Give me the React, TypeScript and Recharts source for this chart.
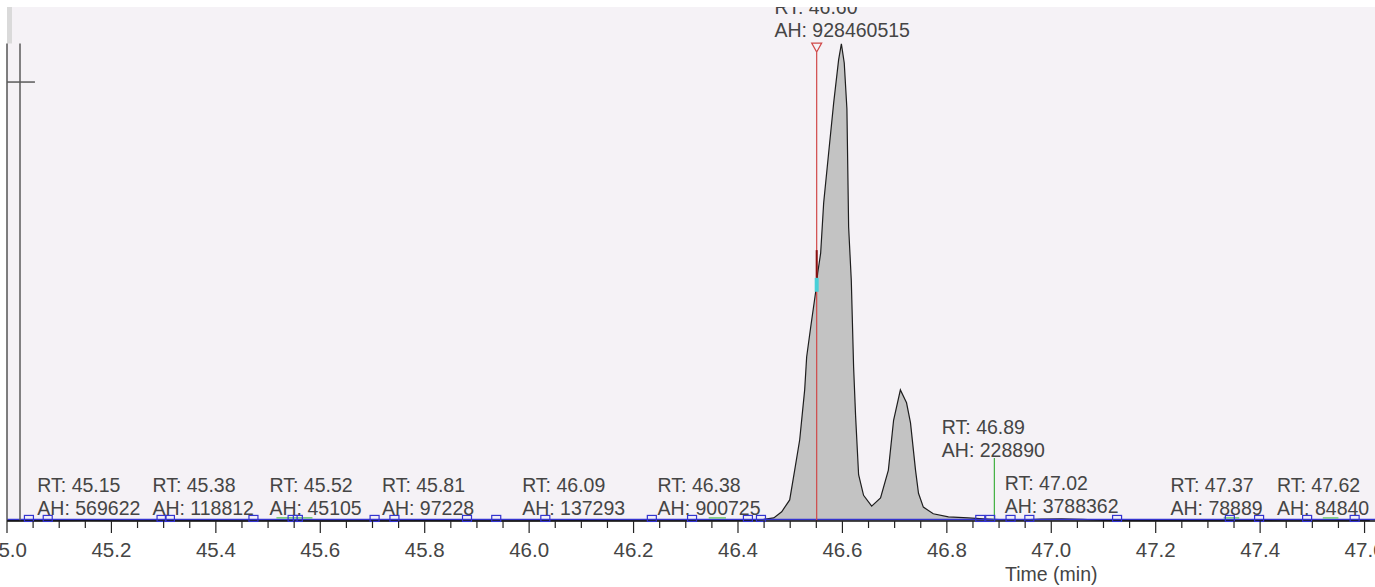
import React from 'react';
import { ComposedChart, Area, Scatter, XAxis, YAxis, CartesianGrid, ReferenceLine, ReferenceDot, ReferenceArea } from 'recharts';

// chromatogram trace: time (min) and intensity (millions of counts)
const TRACE_T = [
    45.0, 45.08, 45.15, 45.23, 45.38, 45.45, 45.52, 45.6, 45.81, 45.95, 46.09, 46.25, 46.38, 46.43,
    46.449, 46.4685, 46.4837, 46.499, 46.5086, 46.5182, 46.5277, 46.5315, 46.5392, 46.5488, 46.5526,
    46.5583, 46.5641, 46.5736, 46.5832, 46.5927, 46.598, 46.6035, 46.6086, 46.6119, 46.617, 46.6214,
    46.6252, 46.631, 46.6405, 46.656, 46.673, 46.688, 46.698, 46.711, 46.7228, 46.7304, 46.74, 46.7457,
    46.755, 46.774, 46.803, 46.841, 46.87, 46.9, 46.95, 46.98, 47.02, 47.06, 47.1, 47.2, 47.37, 47.45, 47.61,
];
const TRACE_V = [
    0.6, 0.8, 1.2, 0.5, 0.7, 0.4, 0.6, 0.4, 0.6, 0.4, 0.7, 0.5, 0.9, 1.2,
    3, 6, 18, 41, 99, 158, 255, 319, 377, 446, 482,
    521, 619, 716, 813, 897, 928.46, 891, 802, 572, 468, 300,
    205, 90, 50, 29, 45, 99, 196, 255, 230, 191, 99, 54,
    27, 14, 8, 6, 4, 2.5, 2, 3.5, 4.2, 3, 1.2, 0.7, 0.9, 0.5, 0.8,
];

// integrated peak annotations
const ANNOT_RT = ['45.15', '45.38', '45.52', '45.81', '46.09', '46.38', '46.60', '46.89', '47.02', '47.37', '47.62'];
const ANNOT_AH = ['569622', '118812', '45105', '97228', '137293', '900725', '928460515', '228890', '3788362', '78889', '84840'];

// peak start / end markers on the baseline
const MARKER_T = [
    45.042, 45.078, 45.296, 45.312, 45.472, 45.547, 45.557, 45.704, 45.742, 45.881, 45.937, 46.031,
    46.235, 46.312, 46.419, 46.444, 46.864, 46.883, 46.922, 46.958, 47.126, 47.342, 47.398, 47.49, 47.581,
];

// short green fitted segments near the baseline
const GREEN_SEGMENTS = [
    [45.516, 45.585],
    [46.344, 46.377],
    [47.33, 47.36],
    [47.52, 47.55],
];

const SELECTED_RT = 46.5507;
const GREEN_RT = 46.891;
const CURSOR_T = 45.0249;

const MAJOR_TICKS = [45.0, 45.2, 45.4, 45.6, 45.8, 46.0, 46.2, 46.4, 46.6, 46.8, 47.0, 47.2, 47.4, 47.6];
const MINOR_TICKS = [
    45.0, 45.05, 45.1, 45.15, 45.2, 45.25, 45.3, 45.35, 45.4, 45.45, 45.5, 45.55, 45.6, 45.65, 45.7, 45.75,
    45.8, 45.85, 45.9, 45.95, 46.0, 46.05, 46.1, 46.15, 46.2, 46.25, 46.3, 46.35, 46.4, 46.45, 46.5, 46.55,
    46.6, 46.65, 46.7, 46.75, 46.8, 46.85, 46.9, 46.95, 47.0, 47.05, 47.1, 47.15, 47.2, 47.25, 47.3, 47.35,
    47.4, 47.45, 47.5, 47.55, 47.6,
];
const Y_TICKS = Array.from({ length: 52 }, (_, i) => i * 18.1);

// label placement (pixels): left offset from RT and baseline offset of the AH line
const LABEL_LAYOUT = [
    { dx: -48, dy: -6 },
    { dx: -53, dy: -6 },
    { dx: -9, dy: -6 },
    { dx: -48, dy: -6 },
    { dx: -54, dy: -6 },
    { dx: -70, dy: -6 },
    { dx: -68, dy: -484 },
    { dx: -52, dy: -64 },
    { dx: -57, dy: -8 },
    { dx: -74, dy: -6 },
    { dx: -98, dy: -6 },
];

const FONT = '"Liberation Sans", Arial, sans-serif';
const TEXT = '#454545';

const traceData = TRACE_T.map((t, i) => ({ t, v: TRACE_V[i] }));
const markerData = MARKER_T.map((t) => ({ t, v: 5 }));
const annotData = ANNOT_RT.map((rt, i) => ({ t: Number(rt), v: 0, rt, ah: ANNOT_AH[i], i }));

function XTick(props: any) {
    const { x, y, payload } = props;
    const value = payload.value as number;
    const major = MAJOR_TICKS.some((m) => Math.abs(m - value) < 1e-6);
    return (
        <g>
            <line x1={x} x2={x} y1={y} y2={y + (major ? 12 : 7)} stroke="#222" strokeWidth={1.2} />
            {major && (
                <text x={x} y={y + 36} textAnchor="middle" fontSize={20.5} fontFamily={FONT} fill={TEXT}>
                    {value.toFixed(1)}
                </text>
            )}
            {Math.abs(value - 47.0) < 1e-6 && (
                <text x={x} y={y + 60} textAnchor="middle" fontSize={19.5} fontFamily={FONT} fill={TEXT}>
                    Time (min)
                </text>
            )}
        </g>
    );
}

function PeakLabel(props: any) {
    const { cx, cy, payload } = props;
    const layout = LABEL_LAYOUT[payload.i];
    const x = cx + layout.dx;
    const y = cy + layout.dy;
    const clipId = `peak-label-clip-${payload.i}`;
    return (
        <g>
            <defs>
                <clipPath id={clipId}>
                    <rect x={0} y={7} width={1375} height={580} />
                </clipPath>
            </defs>
            <g clipPath={`url(#${clipId})`} fontSize={19.5} fontFamily={FONT} fill={TEXT}>
                <text x={x} y={y - 23}>RT: {payload.rt}</text>
                <text x={x} y={y}>AH: {payload.ah}</text>
            </g>
        </g>
    );
}

function MarkerBox(props: any) {
    const { cx, cy } = props;
    return <rect x={cx - 4.5} y={cy - 3} width={9} height={6} fill="none" stroke="#3434d0" strokeWidth={1.2} />;
}

function SelectedTriangle(props: any) {
    const { cx, cy } = props;
    return (
        <path
            d={`M${cx - 5},${cy - 4.5} L${cx + 5},${cy - 4.5} L${cx},${cy + 4.5} Z`}
            fill="none"
            stroke="#d04848"
            strokeWidth={1.2}
        />
    );
}

export default function App() {
    return (
        <div style={{ position: 'absolute', left: 0, top: 0, width: 1375, height: 587, background: '#ffffff' }}>
            <ComposedChart
                width={1375}
                height={587}
                data={traceData}
                margin={{ top: 7, right: 0, bottom: 0, left: 0 }}
            >
                <CartesianGrid fill="#f5f2f6" stroke="none" horizontal={false} vertical={false} />
                <XAxis
                    dataKey="t"
                    type="number"
                    domain={[45.0, 47.6157]}
                    ticks={MINOR_TICKS}
                    interval={0}
                    tickLine={false}
                    tickSize={0}
                    tickMargin={0}
                    axisLine={{ stroke: '#111', strokeWidth: 1.5 }}
                    height={66}
                    tick={<XTick />}
                />
                <YAxis
                    dataKey="v"
                    type="number"
                    domain={[0, 1000]}
                    width={7}
                    ticks={Y_TICKS}
                    interval={0}
                    tick={false}
                    tickSize={3}
                    tickLine={{ stroke: '#555' }}
                    axisLine={false}
                />
                <ReferenceArea x1={45.0} x2={45.0096} y1={929} y2={1000} fill="#dadada" fillOpacity={1} stroke="none" />
                <Area
                    type="linear"
                    dataKey="v"
                    stroke="#1e1e1e"
                    strokeWidth={1.2}
                    fill="#c3c3c3"
                    fillOpacity={1}
                    isAnimationActive={false}
                />
                <ReferenceLine y={3} stroke="#3434d0" strokeWidth={1.6} />
                {GREEN_SEGMENTS.map(([a, b], i) => (
                    <ReferenceLine key={`g-${i}`} segment={[{ x: a, y: 6 }, { x: b, y: 6 }]} stroke="#58c058" strokeWidth={1.2} />
                ))}
                <ReferenceLine segment={[{ x: 45.0, y: 0 }, { x: 45.0, y: 929 }]} stroke="#555" strokeWidth={1.5} />
                <ReferenceLine segment={[{ x: CURSOR_T, y: 0 }, { x: CURSOR_T, y: 929 }]} stroke="#5a5a5a" strokeWidth={1.5} />
                <ReferenceLine segment={[{ x: 45.0, y: 854 }, { x: 45.0535, y: 854 }]} stroke="#5a5a5a" strokeWidth={1.5} />
                <ReferenceLine segment={[{ x: SELECTED_RT, y: 0 }, { x: SELECTED_RT, y: 912 }]} stroke="#d04848" strokeWidth={1.2} />
                <ReferenceLine segment={[{ x: SELECTED_RT, y: 473 }, { x: SELECTED_RT, y: 527 }]} stroke="#8a1010" strokeWidth={2} />
                <ReferenceLine segment={[{ x: SELECTED_RT, y: 446 }, { x: SELECTED_RT, y: 473 }]} stroke="#48d0d8" strokeWidth={4} />
                <ReferenceDot x={SELECTED_RT} y={921} r={5} shape={<SelectedTriangle />} />
                <ReferenceLine segment={[{ x: GREEN_RT, y: 0 }, { x: GREEN_RT, y: 122.6 }]} stroke="#40b040" strokeWidth={1.2} />
                <Scatter data={markerData} dataKey="v" shape={<MarkerBox />} isAnimationActive={false} />
                <Scatter data={annotData} dataKey="v" shape={<PeakLabel />} isAnimationActive={false} />
            </ComposedChart>
        </div>
    );
}
